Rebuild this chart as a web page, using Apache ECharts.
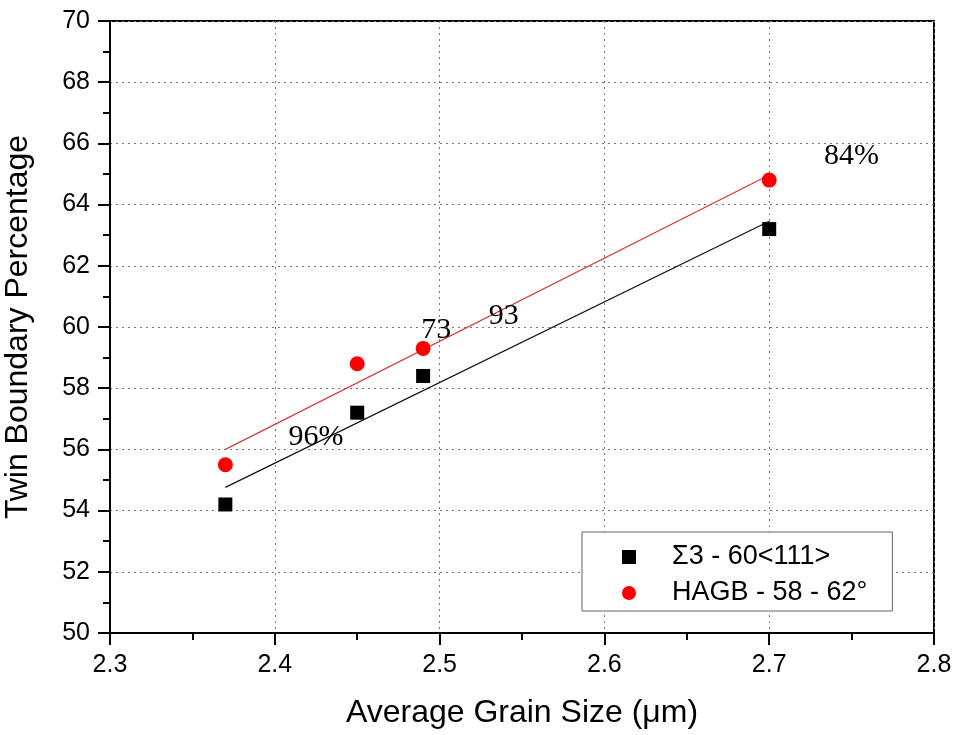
<!DOCTYPE html>
<html><head><meta charset="utf-8">
<script src="https://cdn.jsdelivr.net/npm/echarts@6/dist/echarts.min.js"></script>
<style>html,body{margin:0;padding:0;background:#fff}#c{width:957px;height:735px}</style>
</head><body><div id="c"></div>
<script>
const grainSize = [2.37, 2.45, 2.49, 2.70];
const sigma3 = [54.2, 57.2, 58.4, 63.2];
const hagb = [55.5, 58.8, 59.3, 64.8];
const seriesNames = ['Σ3 - 60<111>', 'HAGB - 58 - 62°'];
const annotations = [
  {text: '96%', x: 2.425, y: 56.4},
  {text: '73', x: 2.498, y: 59.9},
  {text: '93', x: 2.539, y: 60.36},
  {text: '84%', x: 2.750, y: 65.6}
];

function fit(xs, ys) {
  const n = xs.length;
  const mx = xs.reduce((a,b)=>a+b,0)/n, my = ys.reduce((a,b)=>a+b,0)/n;
  let sxy=0, sxx=0;
  for (let i=0;i<n;i++){ sxy+=(xs[i]-mx)*(ys[i]-my); sxx+=(xs[i]-mx)**2; }
  const b = sxy/sxx, a = my - b*mx;
  const x0 = Math.min(...xs), x1 = Math.max(...xs);
  return [[x0, a+b*x0],[x1, a+b*x1]];
}

const chart = echarts.init(document.getElementById('c'));
const axisFont = {fontFamily:'Liberation Sans, Arial', fontSize:25, color:'#000'};
const nameFont = {fontFamily:'Liberation Sans, Arial', fontSize:32, color:'#000'};
chart.setOption({
  animation:false,
  grid:{left:110, right:23, top:21, bottom:102, show:true, borderColor:'#000', borderWidth:2,
        containLabel:false, outerBoundsMode:'none'},
  legend:{
    data:[{name:seriesNames[0], icon:'rect'},{name:seriesNames[1], icon:'circle'}],
    orient:'vertical', left:582, top:532,
    itemWidth:14, itemHeight:14, itemGap:6,
    padding:[10,25,3,40],
    borderColor:'#666', borderWidth:1, backgroundColor:'#fff',
    textStyle:{fontFamily:'Liberation Sans, Arial', fontSize:27, lineHeight:30, color:'#000', padding:[0,0,0,31]}
  },
  xAxis:{
    type:'value', min:2.3, max:2.8, interval:0.1,
    name:'Average Grain Size (μm)', nameLocation:'middle', nameGap:64,
    nameTextStyle:nameFont,
    axisLine:{onZero:false, lineStyle:{color:'#000', width:2}},
    axisTick:{show:true, inside:false, length:12, lineStyle:{color:'#000', width:2}},
    minorTick:{show:true, splitNumber:2, length:7, lineStyle:{color:'#000', width:2}},
    axisLabel:{...axisFont, margin:20, formatter:v=>v.toFixed(1)},
    splitLine:{show:true, lineStyle:{color:'#777', type:[2,4], width:1}}
  },
  yAxis:{
    type:'value', min:50, max:70, interval:2,
    name:'Twin Boundary Percentage', nameLocation:'middle', nameGap:76,
    nameTextStyle:nameFont,
    axisLine:{onZero:false, lineStyle:{color:'#000', width:2}},
    axisTick:{show:true, inside:false, length:12, lineStyle:{color:'#000', width:2}},
    minorTick:{show:true, splitNumber:2, length:7, lineStyle:{color:'#000', width:2}},
    axisLabel:{...axisFont, margin:20},
    splitLine:{show:true, lineStyle:{color:'#777', type:[2,4], width:1}}
  },
  series:[
    {name:seriesNames[0], type:'scatter', symbol:'rect', symbolSize:14, itemStyle:{color:'#000', opacity:1},
     data:grainSize.map((x,i)=>[x, sigma3[i]]), z:5},
    {name:seriesNames[1], type:'scatter', symbol:'circle', symbolSize:15, itemStyle:{color:'#ff0000', opacity:1},
     data:grainSize.map((x,i)=>[x, hagb[i]]), z:5},
    {type:'line', data:fit(grainSize, sigma3), symbol:'none', lineStyle:{color:'#111', width:1.2}, z:3, silent:true},
    {type:'line', data:fit(grainSize, hagb), symbol:'none', lineStyle:{color:'#d63a3a', width:1.2}, z:3, silent:true},
    {type:'scatter', symbolSize:0, z:6, silent:true, itemStyle:{opacity:1},
     data:annotations.map(a=>({value:[a.x,a.y], name:a.text})),
     label:{show:true, position:'inside', formatter:p=>p.name,
       fontFamily:'Liberation Serif, Times New Roman', fontSize:30, color:'#000'}}
  ]
});
</script></body></html>
